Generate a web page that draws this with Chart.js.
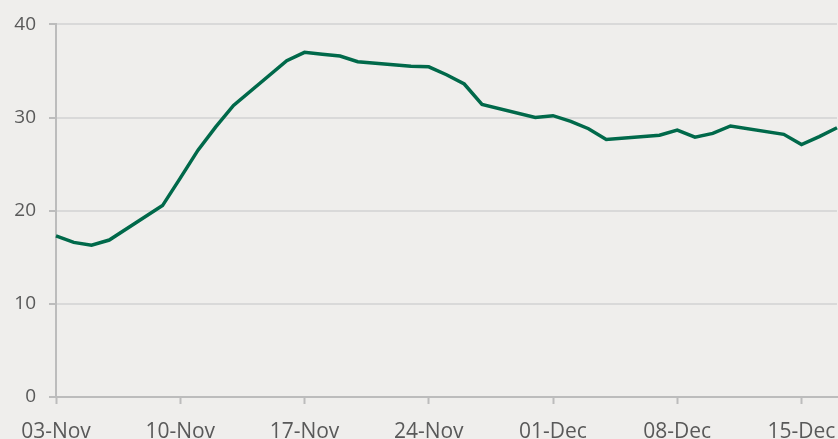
<!DOCTYPE html>
<html>
<head>
<meta charset="utf-8">
<script src="https://cdn.jsdelivr.net/npm/chart.js@4"></script>
<style>
  html, body { margin: 0; padding: 0; background: #efeeec; }
  canvas { display: block; }
</style>
</head>
<body>
<canvas id="chart" width="838" height="439"></canvas>
<script>
// one label per calendar day, 03-Nov to 17-Dec
const dayLabels = [
  '03-Nov','04-Nov','05-Nov','06-Nov','07-Nov','08-Nov','09-Nov',
  '10-Nov','11-Nov','12-Nov','13-Nov','14-Nov','15-Nov','16-Nov',
  '17-Nov','18-Nov','19-Nov','20-Nov','21-Nov','22-Nov','23-Nov',
  '24-Nov','25-Nov','26-Nov','27-Nov','28-Nov','29-Nov','30-Nov',
  '01-Dec','02-Dec','03-Dec','04-Dec','05-Dec','06-Dec','07-Dec',
  '08-Dec','09-Dec','10-Dec','11-Dec','12-Dec','13-Dec','14-Dec',
  '15-Dec','16-Dec','17-Dec'
];
// weekdays only, weekends left empty (line spans across them)
const values = [
  17.3, 16.6, 16.3, 16.85, null, null, 20.55,
  23.5, 26.5, 29.0, 31.3, null, null, 36.1,
  37.0, 36.8, 36.6, 36.0, null, null, 35.5,
  35.45, 34.6, 33.6, 31.4, null, null, 30.0,
  30.2, 29.6, 28.8, 27.65, null, null, 28.1,
  28.65, 27.9, 28.3, 29.1, null, null, 28.2,
  27.1, 27.95, 28.9
];
const yTicks = [0, 10, 20, 30, 40];

const textColor = '#595959';
const axisColor = '#bcbcbc';
const gridColor = '#d9d9d9';

new Chart(document.getElementById('chart'), {
  type: 'line',
  data: {
    labels: dayLabels,
    datasets: [{
      data: values,
      borderColor: '#00694a',
      borderWidth: 3.5,
      pointRadius: 0,
      tension: 0,
      spanGaps: true,
      fill: false
    }]
  },
  options: {
    responsive: false,
    animation: false,
    layout: { padding: { top: 12, right: 1, left: 0, bottom: 0 } },
    plugins: { legend: { display: false }, tooltip: { enabled: false } },
    scales: {
      x: {
        offset: false,
        border: { color: axisColor, width: 2 },
        grid: {
          drawOnChartArea: false,
          tickLength: 7,
          tickWidth: 2,
          tickColor: ctx => (ctx.index % 7 === 0 ? axisColor : 'rgba(0,0,0,0)')
        },
        ticks: {
          autoSkip: false,
          maxRotation: 0,
          padding: 15,
          color: textColor,
          font: { family: 'Open Sans', size: 21 },
          callback: (v, i) => (i % 7 === 0 ? dayLabels[i] : '')
        },
        afterFit: s => { s.height = 42; s.paddingRight = 0; s.paddingLeft = 0; }
      },
      y: {
        min: 0,
        max: 40,
        border: { color: axisColor, width: 2 },
        grid: {
          color: gridColor,
          lineWidth: 2,
          tickLength: 7,
          tickColor: axisColor
        },
        afterBuildTicks: s => { s.ticks = yTicks.map(v => ({ value: v })); },
        ticks: {
          padding: 13,
          color: textColor,
          font: { family: 'Open Sans', size: 19 }
        },
        afterFit: s => { s.width = 56; }
      }
    }
  }
});
</script>
</body>
</html>
